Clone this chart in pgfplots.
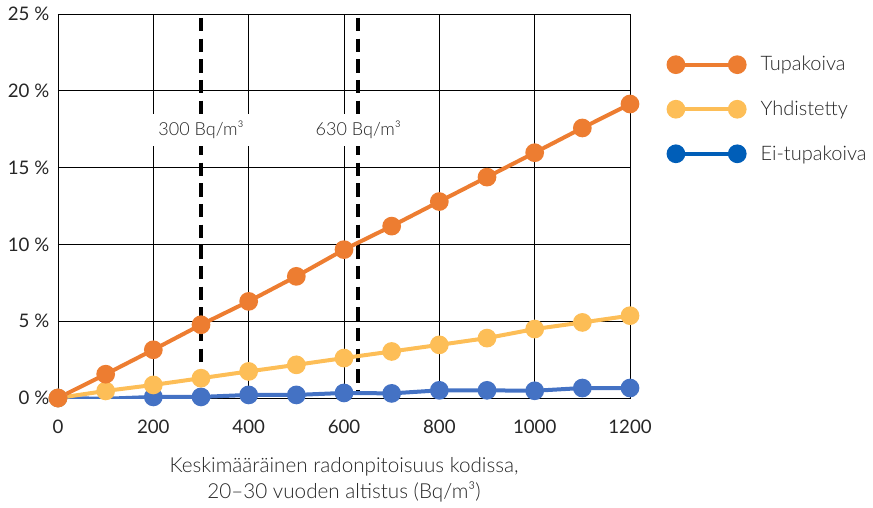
\documentclass[border=0pt]{standalone}
\usepackage{fontspec}
\setmainfont{Lato}
\newfontfamily\light{Lato Light}
\usepackage{pgfplots}
\pgfplotsset{compat=1.18}
\definecolor{tupa}{HTML}{ED7D31}
\definecolor{yhd}{HTML}{FDBE57}
\definecolor{ei}{HTML}{4472C4}
\definecolor{eileg}{HTML}{005EB8}
\definecolor{txt}{HTML}{262626}

\begin{document}
\begin{tikzpicture}
\useasboundingbox (-43.5pt,-81.75pt) rectangle (611.25pt,298.5pt);
\begin{axis}[
    at={(0,0)}, anchor=south west,
    scale only axis, width=429pt, height=288pt,
    xmin=0, xmax=1200, ymin=0, ymax=25,
    xtick={0,200,...,1200}, ytick={0,5,...,25},
    grid=major,
    major grid style={black, line width=0.6pt},
    axis line style={black, line width=0.6pt},
    major tick length=0pt,
    /pgf/number format/assume math mode=true,
    /pgf/number format/1000 sep={},
    yticklabel={\pgfmathprintnumber{\tick} \%},
    ticklabel style={font=\fontsize{14}{16}\selectfont, text=txt},
    xticklabel style={yshift=-13pt},
    yticklabel style={xshift=-3pt},
    xlabel={Keskimääräinen radonpitoisuus kodissa,\\20–30 vuoden altistus (Bq/m³)},
    xlabel style={at={(axis description cs:0.5,0)}, anchor=center, yshift=-61pt,
        align=center, font=\light\fontsize{15.5}{19.5}\selectfont, text=txt},
    legend image code/.code={\draw[#1] plot coordinates {(0pt,0pt) (46pt,0pt)};
        \path (60pt,0pt);},
    legend style={at={(1.06,0.752)}, anchor=west, draw=none, fill=none,
        row sep=17pt, font=\light\fontsize{15}{17}\selectfont, text=txt},
    legend cell align=left,
]
% raja-arvot
\addplot[black, line width=3pt, dash pattern=on 10pt off 5.5pt, forget plot]
    coordinates {(300,24.75) (300,0.5)};
\addplot[black, line width=3pt, dash pattern=on 10pt off 5.5pt, forget plot]
    coordinates {(630,24.75) (630,0.5)};

\addlegendimage{tupa, line width=3pt, mark=*, mark size=5.5pt}
\addlegendentry{Tupakoiva}
\addlegendimage{yhd, line width=3pt, mark=*, mark size=5.5pt}
\addlegendentry{Yhdistetty}
\addlegendimage{eileg, line width=3pt, mark=*, mark size=5.5pt}
\addlegendentry{Ei-tupakoiva}

\addplot[ei, line width=3pt, mark=*, mark size=5.5pt, forget plot] coordinates {
    (0,0) (100,-0.05) (200,0.07) (300,0.07) (400,0.2) (500,0.2) (600,0.33)
    (700,0.3) (800,0.5) (900,0.5) (1000,0.47) (1100,0.65) (1200,0.65)};
\addplot[yhd, line width=3pt, mark=*, mark size=5.5pt, forget plot] coordinates {
    (0,0) (100,0.46) (200,0.85) (300,1.29) (400,1.73) (500,2.16) (600,2.6)
    (700,3.03) (800,3.46) (900,3.9) (1000,4.49) (1100,4.92) (1200,5.36)};
\addplot[tupa, line width=3pt, mark=*, mark size=5.5pt, forget plot] coordinates {
    (0,0) (100,1.55) (200,3.14) (300,4.77) (400,6.29) (500,7.92) (600,9.66)
    (700,11.19) (800,12.79) (900,14.38) (1000,15.97) (1100,17.58) (1200,19.14)};

\node[fill=white, inner xsep=4pt, inner ysep=5pt, text=txt,
    font=\light\fontsize{13.5}{15}\selectfont] at (axis cs:300,17.45) {300 Bq/m³};
\node[fill=white, inner xsep=4pt, inner ysep=5pt, text=txt,
    font=\light\fontsize{13.5}{15}\selectfont] at (axis cs:630,17.45) {630 Bq/m³};
\end{axis}
\end{tikzpicture}
\end{document}
